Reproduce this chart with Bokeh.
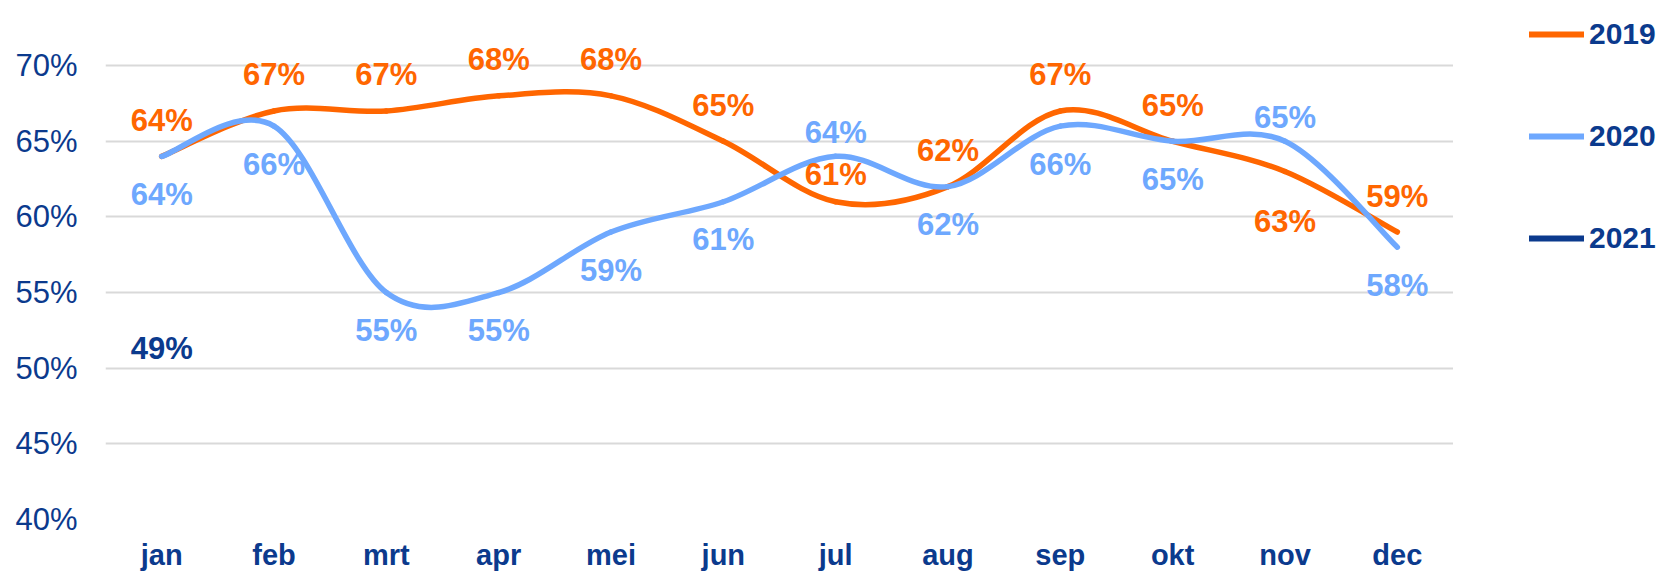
from bokeh.plotting import figure
from bokeh.layouts import row
from bokeh.models import Range1d, FixedTicker, PrintfTickFormatter, Legend, LegendItem
from bokeh.embed import file_html
from bokeh.resources import INLINE
from bokeh.core.properties import value

# ---- data ----
months = ["jan", "feb", "mrt", "apr", "mei", "jun", "jul", "aug", "sep", "okt", "nov", "dec"]
y2019 = [64, 67, 67, 68, 68, 65, 61, 62, 67, 65, 63, 59]
y2020 = [64, 66, 55, 55, 59, 61, 64, 62, 66, 65, 65, 58]
y2021 = [49]
y_ticks = [40, 45, 50, 55, 60, 65, 70]
series_names = ["2019", "2020", "2021"]

# ---- styles ----
ORANGE = "#FF6600"
LBLUE = "#6EA8FE"
NAVY = "#0B3A8D"
FONT = value("Liberation Sans")

# label offsets in screen pixels (negative = above the point)
off2019 = [-36] * 12
off2019[6] = -27
off2019[10] = 50
off2020 = [38] * 12
off2020[6] = -24
off2020[10] = -24
off2021 = [-35]


def bezier_segments(ys):
    n = len(ys)
    xs = list(range(n))
    s = dict(x0=[], y0=[], x1=[], y1=[], cx0=[], cy0=[], cx1=[], cy1=[])
    for i in range(n - 1):
        a = i - 1 if i > 0 else i
        b = i + 2 if i + 2 < n else i + 1
        s["x0"].append(xs[i]); s["y0"].append(ys[i])
        s["x1"].append(xs[i + 1]); s["y1"].append(ys[i + 1])
        s["cx0"].append(xs[i] + (xs[i + 1] - xs[a]) / 6)
        s["cy0"].append(ys[i] + (ys[i + 1] - ys[a]) / 6)
        s["cx1"].append(xs[i + 1] - (xs[b] - xs[i]) / 6)
        s["cy1"].append(ys[i + 1] - (ys[b] - ys[i]) / 6)
    return s


p = figure(width=1453, height=574, output_backend="svg", toolbar_location=None,
           x_range=Range1d(-0.5, 11.5), y_range=Range1d(40, 74.3),
           min_border_left=105, min_border_right=0, min_border_top=0, min_border_bottom=55)
p.outline_line_color = None
p.background_fill_color = "white"
p.border_fill_color = "white"

# axes
p.xaxis.ticker = FixedTicker(ticks=list(range(len(months))))
p.xaxis.major_label_overrides = {i: m for i, m in enumerate(months)}
p.xaxis.axis_line_color = None
p.xaxis.major_tick_line_color = None
p.xaxis.minor_tick_line_color = None
p.xaxis.major_label_standoff = 13
p.xaxis.major_label_text_font = "Liberation Sans"
p.xaxis.major_label_text_font_size = "29px"
p.xaxis.major_label_text_font_style = "bold"
p.xaxis.major_label_text_color = NAVY

p.yaxis.ticker = FixedTicker(ticks=y_ticks)
p.yaxis.formatter = PrintfTickFormatter(format="%d%%")
p.yaxis.axis_line_color = None
p.yaxis.major_tick_line_color = None
p.yaxis.minor_tick_line_color = None
p.yaxis.major_label_standoff = 22
p.yaxis.major_label_text_font = "Liberation Sans"
p.yaxis.major_label_text_font_size = "31px"
p.yaxis.major_label_text_color = NAVY

p.xgrid.grid_line_color = None
p.ygrid.grid_line_color = "#D9D9D9"
p.ygrid.grid_line_width = 2

# smoothed lines
s19 = bezier_segments(y2019)
p.bezier(**s19, line_color=ORANGE, line_width=5.5, line_cap="round")
s20 = bezier_segments(y2020)
p.bezier(**s20, line_color=LBLUE, line_width=5.5, line_cap="round")

# data labels
def labels(ys, offs, color):
    p.text(x=list(range(len(ys))), y=ys, text=[f"{v}%" for v in ys], y_offset=offs,
           text_align="center", text_baseline="middle", text_font=FONT,
           text_font_style="bold", text_font_size="31px", text_color=color)

labels(y2019, off2019, ORANGE)
labels(y2020, off2020, LBLUE)
labels(y2021, off2021, NAVY)

# ---- legend panel (separate figure to the right) ----
q = figure(width=207, height=574, output_backend="svg", toolbar_location=None,
           x_range=Range1d(0, 1), y_range=Range1d(0, 1),
           x_axis_type=None, y_axis_type=None,
           min_border_left=0, min_border_right=0, min_border_top=0, min_border_bottom=0)
q.outline_line_color = None
q.grid.visible = False

r19 = q.line(x=[0], y=[0], line_color=ORANGE, line_width=6, line_cap="round")
r20 = q.line(x=[0], y=[0], line_color=LBLUE, line_width=6, line_cap="round")
r21 = q.line(x=[0], y=[0], line_color=NAVY, line_width=6, line_cap="round")

legend = Legend(items=[LegendItem(label=series_names[0], renderers=[r19]),
                       LegendItem(label=series_names[1], renderers=[r20]),
                       LegendItem(label=series_names[2], renderers=[r21])],
                location=(76, 264), orientation="vertical",
                glyph_width=55, glyph_height=34, label_height=34, spacing=68,
                padding=0, margin=0, label_standoff=5,
                border_line_color=None, background_fill_alpha=0,
                label_text_font="Liberation Sans", label_text_font_size="30px",
                label_text_font_style="bold", label_text_color=NAVY)
q.add_layout(legend)

layout = row(p, q, spacing=0)
open("out.html", "w").write(file_html(layout, INLINE))
